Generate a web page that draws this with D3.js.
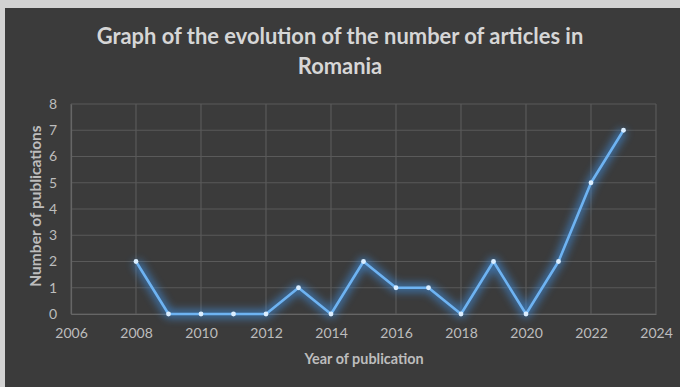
<!DOCTYPE html>
<html>
<head>
<meta charset="utf-8">
<script src="https://cdn.jsdelivr.net/npm/d3@7"></script>
<style>
  html, body { margin: 0; padding: 0; background: #d4d4d4; }
  svg { display: block; }
</style>
</head>
<body>
<svg id="chart" width="680" height="387"></svg>
<script>
// Publications per year
const years = [2008, 2009, 2010, 2011, 2012, 2013, 2014, 2015, 2016, 2017, 2018, 2019, 2020, 2021, 2022, 2023];
const counts = [2, 0, 0, 0, 0, 1, 0, 2, 1, 1, 0, 2, 0, 2, 5, 7];
const xTicks = [2006, 2008, 2010, 2012, 2014, 2016, 2018, 2020, 2022, 2024];
const yTicks = [0, 1, 2, 3, 4, 5, 6, 7, 8];
const titleLines = ["Graph of the evolution of the number of articles in", "Romania"];

const svg = d3.select("#chart");
const W = 680, H = 387;
const margin = { left: 71, right: 24, top: 104, bottom: 73 };

const defs = svg.append("defs");
const glow = defs.append("filter").attr("id", "glow")
  .attr("x", "-20%").attr("y", "-20%").attr("width", "140%").attr("height", "140%");
glow.append("feGaussianBlur").attr("stdDeviation", 4);

// panel
svg.append("rect").attr("x", 0).attr("y", 0).attr("width", W).attr("height", H).attr("fill", "#d2d2d2");
svg.append("rect").attr("x", 5).attr("y", 8).attr("width", W - 5).attr("height", H - 8).attr("fill", "#3b3b3b");

const x = d3.scaleLinear().domain([2006, 2024]).range([margin.left, W - margin.right]);
const y = d3.scaleLinear().domain([0, 8]).range([H - margin.bottom, margin.top]);

const gridColor = "#5a5a5a";
const textColor = "#bdbdbd";
const font = "Lato, 'Open Sans', sans-serif";

// gridlines
svg.append("g").selectAll("line.h").data(yTicks).join("line")
  .attr("x1", x(2006)).attr("x2", x(2024))
  .attr("y1", d => y(d)).attr("y2", d => y(d))
  .attr("stroke", gridColor).attr("stroke-width", 1.2);
svg.append("g").selectAll("line.v").data(xTicks).join("line")
  .attr("x1", d => x(d)).attr("x2", d => x(d))
  .attr("y1", y(8)).attr("y2", y(0))
  .attr("stroke", gridColor).attr("stroke-width", 1.2);

// axes
const xAxis = svg.append("g").attr("transform", `translate(0,${y(0)})`)
  .call(d3.axisBottom(x).tickValues(xTicks).tickFormat(d3.format("d")).tickSize(0).tickPadding(14));
const yAxis = svg.append("g").attr("transform", `translate(${x(2006)},0)`)
  .call(d3.axisLeft(y).tickValues(yTicks).tickSize(0).tickPadding(14));
[xAxis, yAxis].forEach(g => {
  g.select(".domain").attr("stroke", "#666").attr("stroke-width", 1.2);
  g.selectAll("text").attr("fill", textColor).attr("font-family", font).attr("font-size", 14);
});

// line with glow
const line = d3.line().x((d, i) => x(years[i])).y(d => y(d));
svg.append("path").datum(counts).attr("d", line)
  .attr("fill", "none").attr("stroke", "#3f8fe0").attr("stroke-width", 8)
  .attr("stroke-linejoin", "round").attr("opacity", 0.7).attr("filter", "url(#glow)");
svg.append("path").datum(counts).attr("d", line)
  .attr("fill", "none").attr("stroke", "#6eb3f2").attr("stroke-width", 2.6)
  .attr("stroke-linejoin", "round");
svg.append("g").selectAll("circle").data(counts).join("circle")
  .attr("cx", (d, i) => x(years[i])).attr("cy", d => y(d)).attr("r", 2.4)
  .attr("fill", "#dbeeff");

// title
svg.append("g").selectAll("text").data(titleLines).join("text")
  .attr("x", 340).attr("y", (d, i) => 44 + i * 29.5)
  .attr("text-anchor", "middle")
  .attr("fill", "#d6d6d6").attr("font-family", font).attr("font-weight", "bold")
  .attr("font-size", 21.9).text(d => d);

// axis titles
svg.append("text").attr("x", 364).attr("y", 364).attr("text-anchor", "middle")
  .attr("fill", textColor).attr("font-family", font).attr("font-weight", "bold")
  .attr("font-size", 14.4).text("Year of publication");
svg.append("text").attr("transform", `translate(41,${(y(0) + y(8)) / 2 - 3}) rotate(-90)`)
  .attr("text-anchor", "middle")
  .attr("fill", textColor).attr("font-family", font).attr("font-weight", "bold")
  .attr("font-size", 15.5).text("Number of publications");
</script>
</body>
</html>
